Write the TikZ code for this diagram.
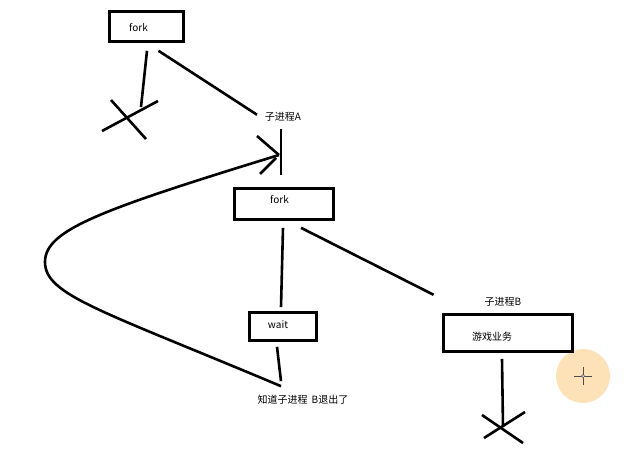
\documentclass[tikz,border=0pt]{standalone}
\usepackage{fontspec}
\setmainfont{Noto Sans CJK SC}
\definecolor{cursorglow}{RGB}{252,226,182}

\begin{document}
\begin{tikzpicture}[x=1pt,y=-1pt,
		pen/.style={line width=2.6pt},
		procbox/.style={draw,line width=2.6pt,inner sep=0pt},
		txt/.style={font=\fontsize{10}{12}\selectfont,inner sep=0pt}]
		
		\useasboundingbox (0,0) rectangle (634,463);
		
		% cursor highlight of the screenshot
		\fill[cursorglow] (583,376) circle (27);
		\draw[black!70,line width=0.8pt] (574,376) -- (592,376);
		\draw[black!70,line width=0.8pt] (583,367) -- (583,385);
		\draw[black!70,fill=white,line width=0.5pt] (583,376) circle (1.6);
		
		% boxes
		\node[procbox,minimum width=74pt,minimum height=30pt,
		label={[txt,xshift=-8pt,yshift=-1.5pt]center:fork}] (fork1) at (146.5,26.5) {};
		\node[procbox,minimum width=99pt,minimum height=31pt,
		label={[txt,xshift=-4.5pt,yshift=4pt]center:fork}] (fork2) at (284,204) {};
		\node[procbox,minimum width=67pt,minimum height=28pt,
		label={[txt,xshift=-5pt,yshift=2pt]center:wait}] (wait) at (283,326.5) {};
		\node[procbox,minimum width=129pt,minimum height=37pt,
		label={[txt,xshift=-16pt,yshift=-4pt]center:游戏业务}] (game) at (508,333) {};
		
		% labels
		\node[txt] (labA) at (283,117) {子进程A};
		\node[txt] (labB) at (503,302) {子进程B};
		\node[txt] (labexit) at (303,400) {知道子进程\hspace{4pt}B退出了};
		
		% free ends
		\coordinate (deadA) at (128,118);
		\coordinate (deadB) at (503,427);
		\coordinate (tipA) at (279,155);
		\coordinate (bend) at (45,262);
		
		% first fork: parent dies, child A goes on
		\draw[pen] ([shift={(0.5,8)}]fork1.south) -- ([shift={(13,-11)}]deadA);
		\draw[pen] (102,131) -- (158,101);
		\draw[pen] (111,100) -- (146,139);
		\draw[pen] ([shift={(12,8)}]fork1.south) -- ([shift={(-26,-7)}]labA.south);
		\draw[pen] ([shift={(-2,7)}]labA.south) -- ([shift={(-3,-12)}]fork2.north);
		
		% second fork
		\draw[pen] ([shift={(-1,7)}]fork2.south) -- ([shift={(-2,-4)}]wait.north);
		\draw[pen] ([shift={(17,7)}]fork2.south) -- ([shift={(-51,-12)}]labB.south west);
		\draw[pen] ([shift={(-6,5)}]wait.south) -- ([shift={(-22,-14)}]labexit.north);
		
		% wait gets the signal and loops back
		\draw[pen] ([shift={(-22,-9)}]labexit.north) .. controls (100,310) and (45,295) .. (bend)
		.. controls (45,230) and (100,210) .. (tipA);
		\draw[pen] (tipA) -- ++(-22,-19);
		\draw[pen] ([shift={(-3,3)}]tipA) -- ++(-16,16);
		
		% child B
		\draw[pen] ([shift={(-6,6)}]game.south) -- (deadB);
		\draw[pen] ([shift={(-21,-12)}]deadB) -- ([shift={(20,16)}]deadB);
		\draw[pen] ([shift={(-19,11)}]deadB) -- ([shift={(22,-15)}]deadB);
		
	\end{tikzpicture}
\end{document}
